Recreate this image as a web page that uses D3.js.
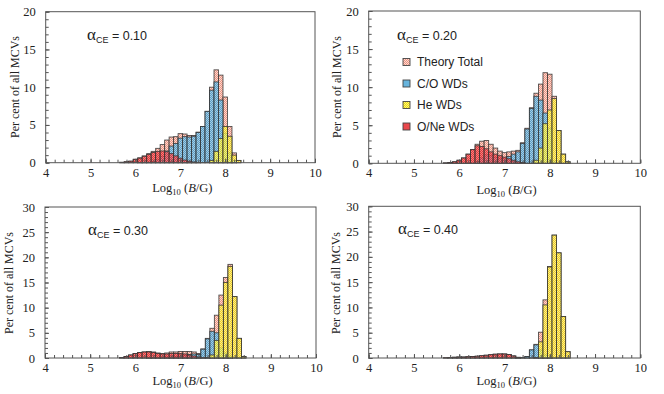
<!DOCTYPE html>
<html><head><meta charset="utf-8">
<script src="https://cdn.jsdelivr.net/npm/d3@7"></script>
<style>
body{margin:0;background:#fff}
svg{display:block}
.tick text{font-family:"Liberation Serif","Times New Roman",serif;font-size:12.5px;fill:#222}
</style></head><body>
<script>
// bin centres, log10(B/G)
const bins = [5.7,5.8,5.9,6.0,6.1,6.2,6.3,6.4,6.5,6.6,6.7,6.8,6.9,7.0,7.1,7.2,7.3,7.4,7.5,7.6,7.7,7.8,7.9,8.0,8.1,8.2,8.3,8.4];

// alpha_CE = 0.10
const total1 = [0.05,0.12,0.2,0.45,0.65,0.9,1.2,1.5,1.9,2.4,3.0,3.4,3.45,3.85,3.8,3.6,3.6,4.05,4.8,6.8,10.0,12.3,11.6,8.7,4.8,1.3,0.3,0];
const co1    = [0,0,0,0,0.05,0.05,0.1,0.15,0.4,0.85,1.55,2.2,2.55,3.25,3.45,3.4,3.5,4.0,4.8,6.8,9.6,10.7,8.3,3.9,1.3,0.3,0,0];
const he1    = [0,0,0,0,0,0,0,0,0,0,0,0,0,0,0,0,0,0,0,0,0.3,1.5,3.2,4.8,3.5,1.0,0.3,0];
const one1   = [0.05,0.12,0.2,0.45,0.6,0.85,1.1,1.35,1.5,1.55,1.45,1.2,0.9,0.6,0.35,0.2,0.1,0.05,0,0,0,0,0,0,0,0,0,0];

// alpha_CE = 0.20
const total2 = [0.05,0.1,0.2,0.4,0.7,1.2,1.8,2.5,2.9,3.0,2.5,2.0,1.6,1.4,1.5,1.6,1.7,2.7,4.6,7.3,9.2,10.4,11.9,11.7,8.8,4.3,1.2,0.2];
const co2    = [0,0,0,0,0,0,0,0.2,0.7,1.1,1.0,0.8,0.6,0.6,0.9,1.2,1.5,2.6,4.5,7.2,8.8,8.3,6.6,4.6,0.3,0,0,0];
const he2    = [0,0,0,0,0,0,0,0,0,0,0,0,0,0,0,0,0,0,0,0,0.4,2.0,5.2,7.0,8.5,4.3,1.2,0.2];
const one2   = [0.05,0.1,0.2,0.4,0.7,1.2,1.8,2.3,2.2,1.9,1.5,1.2,1.0,0.8,0.6,0.4,0.2,0.1,0,0,0,0,0,0,0,0,0,0];

// alpha_CE = 0.30
const total3 = [0.1,0.3,0.6,0.9,1.1,1.2,1.3,1.2,1.0,0.9,1.0,1.2,1.2,1.3,1.3,1.3,1.2,0.9,1.8,3.9,5.9,8.5,12.5,16.0,18.6,12.2,3.9,0.3];
const co3    = [0,0,0,0,0,0,0.1,0.1,0.1,0.1,0.2,0.3,0.3,0.4,0.5,0.7,0.8,0.7,1.75,3.8,5.3,5.0,2.0,1.0,0.4,0,0,0];
const he3    = [0,0,0,0,0,0,0,0,0,0,0,0,0,0,0,0,0,0,0,0.1,0.6,3.5,10.5,15.0,18.2,12.2,3.9,0.3];
const one3   = [0.1,0.3,0.6,0.9,1.1,1.2,1.2,1.1,0.9,0.8,0.8,0.9,0.9,0.9,0.8,0.6,0.4,0.2,0.05,0,0,0,0,0,0,0,0,0];

// alpha_CE = 0.40
const total4 = [0.05,0.1,0.15,0.2,0.2,0.25,0.3,0.35,0.45,0.55,0.65,0.75,0.8,0.8,0.7,0.4,0.15,0.1,0.3,1.6,2.7,5.1,11.5,18.1,24.3,20.8,8.2,1.25];
const co4    = [0,0,0,0,0,0,0,0,0,0,0,0,0,0,0,0,0.05,0.1,0.3,1.6,2.6,1.6,0.6,0.1,0,0,0,0];
const he4    = [0,0,0,0,0,0,0,0,0,0,0,0,0,0,0,0,0,0,0,0,0.1,3.2,10.5,18.0,24.3,20.8,8.2,1.25];
const one4   = [0.05,0.1,0.15,0.2,0.2,0.25,0.3,0.35,0.45,0.55,0.65,0.75,0.8,0.8,0.7,0.4,0.1,0,0,0,0,0,0,0,0,0,0,0];

const alphaLabels = ["0.10","0.20","0.30","0.40"];
const yMaxes = [20,20,30,30];
const legendNames = ["Theory Total","C/O WDs","He WDs","O/Ne WDs"];

// panel boxes in page pixels
var panels = [
  {left:45.7, right:315,   bottom:162.7, top:11.7,  pad:5, ylabX:15,  ylabY:87,  xlabY:192, aX:87,  aY:40},
  {left:368.7,right:640.3, bottom:163.3, top:11,    pad:5, ylabX:337, ylabY:87,  xlabY:194, aX:397, aY:40},
  {left:45,   right:316,   bottom:358,   top:207,   pad:5, ylabX:9,   ylabY:283, xlabY:384.5, aX:88,  aY:235},
  {left:368.7,right:640.3, bottom:358,   top:206.3, pad:5, ylabX:336, ylabY:283, xlabY:384.5, aX:398, aY:234}
];
var series = [
  [total1,co1,he1,one1],
  [total2,co2,he2,one2],
  [total3,co3,he3,one3],
  [total4,co4,he4,one4]
];

// pattern colours: base / light dot
var fills = [
  {id:"pTot", base:"#ec9280", light:"#fbd9d0", op:1},
  {id:"pCO",  base:"#3f9dd0", light:"#8fcbea", op:0.82},
  {id:"pHe",  base:"#eedc10", light:"#faf27a", op:0.8},
  {id:"pONe", base:"#e0242c", light:"#f36b6b", op:0.8}
];

var svg = d3.select("body").append("svg")
    .attr("width", 664)
    .attr("height", 394);

var defs = svg.append("defs");
fills.forEach(function(f) {
  var p = defs.append("pattern")
      .attr("id", f.id)
      .attr("width", 2).attr("height", 2)
      .attr("patternUnits", "userSpaceOnUse");
  p.append("rect").attr("width", 2).attr("height", 2).attr("fill", f.base);
  p.append("rect").attr("width", 1).attr("height", 1).attr("fill", f.light);
  p.append("rect").attr("x", 1).attr("y", 1).attr("width", 1).attr("height", 1).attr("fill", f.light);
});

var serif = "'Liberation Serif','Times New Roman',serif";
var sans = "'Liberation Sans',Arial,sans-serif";

panels.forEach(function(pn, i) {
  var x = d3.scaleLinear().domain([4, 10]).range([pn.left, pn.right]);
  var y = d3.scaleLinear().domain([0, yMaxes[i]]).range([pn.bottom, pn.top]);
  var g = svg.append("g");

  // bars: total behind, then C/O, He, O/Ne
  series[i].forEach(function(vals, s) {
    var data = bins.map(function(b, k) { return {c: b, v: vals[k]}; })
                   .filter(function(d) { return d.v > 0; });
    g.append("g").selectAll("rect")
      .data(data)
      .enter().append("rect")
      .attr("x", function(d) { return x(d.c - 0.05); })
      .attr("width", function(d) { return x(d.c + 0.05) - x(d.c - 0.05); })
      .attr("y", function(d) { return y(d.v); })
      .attr("height", function(d) { return y(0) - y(d.v); })
      .attr("fill", "url(#" + fills[s].id + ")")
      .attr("fill-opacity", fills[s].op)
      .attr("stroke", "#333")
      .attr("stroke-opacity", 0.85)
      .attr("stroke-width", 0.9);
  });

  // minor ticks
  var xMinor = d3.axisBottom(x).tickValues(d3.range(4, 10.01, 0.2)).tickSize(-3).tickFormat("");
  var yMinor = d3.axisLeft(y).tickValues(d3.range(0, yMaxes[i] + 0.01, 1)).tickSize(-3).tickFormat("");
  g.append("g").attr("transform", "translate(0," + pn.bottom + ")").call(xMinor)
    .call(function(a) { a.select(".domain").remove(); a.selectAll("line").attr("stroke", "#555"); });
  g.append("g").attr("transform", "translate(" + pn.left + ",0)").call(yMinor)
    .call(function(a) { a.select(".domain").remove(); a.selectAll("line").attr("stroke", "#555"); });

  // major ticks
  var xAxis = d3.axisBottom(x).ticks(6).tickSize(-4).tickPadding(pn.pad).tickFormat(d3.format("d"));
  var yAxis = d3.axisLeft(y).tickValues(d3.range(0, yMaxes[i] + 1, 5)).tickSize(-4).tickPadding(10);
  g.append("g").attr("transform", "translate(0," + pn.bottom + ")").call(xAxis)
    .call(function(a) { a.select(".domain").remove(); a.selectAll("line").attr("stroke", "#555"); });
  g.append("g").attr("transform", "translate(" + pn.left + ",0)").call(yAxis)
    .call(function(a) { a.select(".domain").remove(); a.selectAll("line").attr("stroke", "#555"); });

  // frame
  g.append("rect")
    .attr("x", pn.left).attr("y", pn.top)
    .attr("width", pn.right - pn.left).attr("height", pn.bottom - pn.top)
    .attr("fill", "none").attr("stroke", "#555").attr("stroke-width", 1);

  // y label
  g.append("text")
    .attr("transform", "translate(" + pn.ylabX + "," + pn.ylabY + ") rotate(-90)")
    .attr("text-anchor", "middle")
    .attr("dy", "0.35em")
    .style("font-family", serif).style("font-size", "12px").style("fill", "#222")
    .text("Per cent of all MCVs");

  // x label
  var xl = g.append("text")
    .attr("x", (pn.left + pn.right) / 2 + 2).attr("y", pn.xlabY)
    .attr("text-anchor", "middle")
    .style("font-family", serif).style("font-size", "12.5px").style("fill", "#222");
  xl.append("tspan").text("Log");
  xl.append("tspan").attr("dy", 3).style("font-size", "8.5px").text("10");
  xl.append("tspan").attr("dy", -3).text(" (");
  xl.append("tspan").style("font-style", "italic").text("B");
  xl.append("tspan").text("/G)");

  // alpha label
  var al = g.append("text").attr("x", pn.aX).attr("y", pn.aY).style("fill", "#222");
  al.append("tspan").style("font-family", serif).style("font-size", "17px").text("\u03b1");
  al.append("tspan").attr("dy", 3).style("font-family", sans).style("font-size", "9px").text("CE");
  al.append("tspan").attr("dy", -3).style("font-family", sans).style("font-size", "12.5px").text(" = " + alphaLabels[i]);
});

// legend in the second panel
var lg = svg.append("g").selectAll("g")
  .data(legendNames)
  .enter().append("g")
  .attr("transform", function(d, k) { return "translate(403," + (62 + k * 21.5) + ")"; });
lg.append("rect")
  .attr("x", 0).attr("y", -3.5).attr("width", 7).attr("height", 7)
  .attr("fill", function(d, k) { return "url(#" + fills[k].id + ")"; })
  .attr("stroke", "#444").attr("stroke-width", 0.9);
lg.append("text")
  .attr("x", 14).attr("dy", "0.35em")
  .style("font-family", sans).style("font-size", "12px").style("fill", "#222")
  .text(function(d) { return d; });
</script></body></html>
